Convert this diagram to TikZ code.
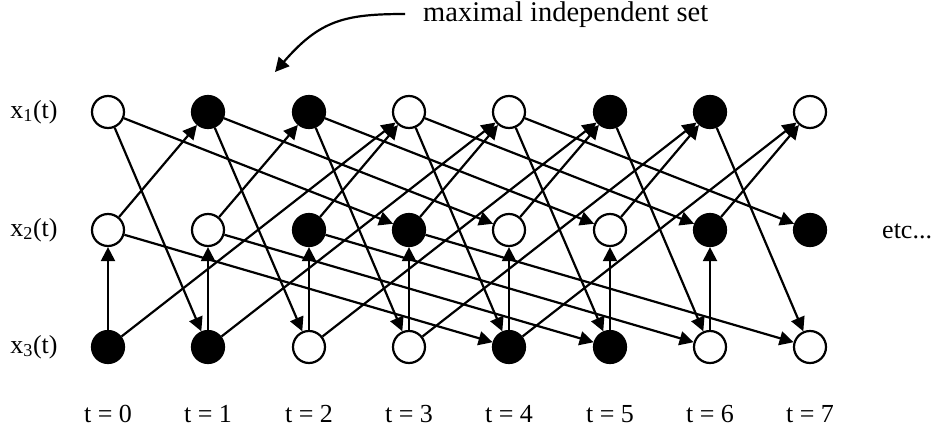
\documentclass[tikz,border=0pt]{standalone}
\usepackage{fontspec}
\setmainfont{Liberation Serif}
\usetikzlibrary{arrows.meta}

\begin{document}
\begin{tikzpicture}[x=1pt,y=-1pt,
			state/.style={
				circle,
				draw,
				line width=2.2pt,
				minimum size=32pt,
				inner sep=0pt
			},
			onstate/.style={state,fill=black},
			offstate/.style={state,fill=white},
			link/.style={-{Triangle[length=14pt,width=14pt]},line width=2.2pt},
			lbl/.style={font=\fontsize{26}{30}\selectfont,inner sep=0pt}
			]
			\useasboundingbox (0,0) rectangle (936,431);
			% row x1
			\node[offstate] (a0) at (108,112) {};
			\node[onstate]  (a1) at (208,112) {};
			\node[onstate]  (a2) at (309,112) {};
			\node[offstate] (a3) at (409,112) {};
			\node[offstate] (a4) at (509,112) {};
			\node[onstate]  (a5) at (610,112) {};
			\node[onstate]  (a6) at (710,112) {};
			\node[offstate] (a7) at (810,112) {};
			% row x2
			\node[offstate] (b0) at (108,230) {};
			\node[offstate] (b1) at (208,230) {};
			\node[onstate]  (b2) at (309,230) {};
			\node[onstate]  (b3) at (409,230) {};
			\node[offstate] (b4) at (509,230) {};
			\node[offstate] (b5) at (610,230) {};
			\node[onstate]  (b6) at (710,230) {};
			\node[onstate]  (b7) at (810,230) {};
			% row x3
			\node[onstate]  (c0) at (108,347) {};
			\node[onstate]  (c1) at (208,347) {};
			\node[offstate] (c2) at (309,347) {};
			\node[offstate] (c3) at (409,347) {};
			\node[onstate]  (c4) at (509,347) {};
			\node[onstate]  (c5) at (610,347) {};
			\node[offstate] (c6) at (710,347) {};
			\node[offstate] (c7) at (810,347) {};
			% labels
			\node[lbl] (xa) at (34,112) {x\textsubscript{1}(t)};
			\node[lbl] (xb) at (34,230) {x\textsubscript{2}(t)};
			\node[lbl] (xc) at (34,347) {x\textsubscript{3}(t)};
			\node[lbl,anchor=base west] (etc) at (882,238) {etc...};
			\node[lbl,anchor=base] (t0) at (108,422) {t = 0};
			\node[lbl,anchor=base] (t1) at (208,422) {t = 1};
			\node[lbl,anchor=base] (t2) at (309,422) {t = 2};
			\node[lbl,anchor=base] (t3) at (409,422) {t = 3};
			\node[lbl,anchor=base] (t4) at (509,422) {t = 4};
			\node[lbl,anchor=base] (t5) at (610,422) {t = 5};
			\node[lbl,anchor=base] (t6) at (710,422) {t = 6};
			\node[lbl,anchor=base] (t7) at (810,422) {t = 7};
			% x3(t) -> x2(t)
			\draw[link] (c0) -- (b0);
			\draw[link] (c1) -- (b1);
			\draw[link] (c2) -- (b2);
			\draw[link] (c3) -- (b3);
			\draw[link] (c4) -- (b4);
			\draw[link] (c5) -- (b5);
			\draw[link] (c6) -- (b6);
			% x2(t) -> x1(t+1)
			\draw[link] (b0) -- (a1);
			\draw[link] (b1) -- (a2);
			\draw[link] (b2) -- (a3);
			\draw[link] (b3) -- (a4);
			\draw[link] (b4) -- (a5);
			\draw[link] (b5) -- (a6);
			\draw[link] (b6) -- (a7);
			% x1(t) -> x3(t+1)
			\draw[link] (a0) -- (c1);
			\draw[link] (a1) -- (c2);
			\draw[link] (a2) -- (c3);
			\draw[link] (a3) -- (c4);
			\draw[link] (a4) -- (c5);
			\draw[link] (a5) -- (c6);
			\draw[link] (a6) -- (c7);
			% x1(t) -> x2(t+3)
			\draw[link] (a0) -- (b3);
			\draw[link] (a1) -- (b4);
			\draw[link] (a2) -- (b5);
			\draw[link] (a3) -- (b6);
			\draw[link] (a4) -- (b7);
			% x3(t) -> x1(t+3)
			\draw[link] (c0) -- (a3);
			\draw[link] (c1) -- (a4);
			\draw[link] (c2) -- (a5);
			\draw[link] (c3) -- (a6);
			\draw[link] (c4) -- (a7);
			% x2(t) -> x3(t+4)
			\draw[link] (b0) -- (c4);
			\draw[link] (b1) -- (c5);
			\draw[link] (b2) -- (c6);
			\draw[link] (b3) -- (c7);
			% callout
			\node[lbl,font=\fontsize{28.5}{32}\selectfont,anchor=base west] (mis) at (423,21) {maximal independent set};
			\coordinate (misfrom) at (405,14);
			\coordinate (misto) at (275,72);
			\draw[link] (misfrom) .. controls (345,14) and (320,20) .. (misto);
		\end{tikzpicture}
\end{document}
